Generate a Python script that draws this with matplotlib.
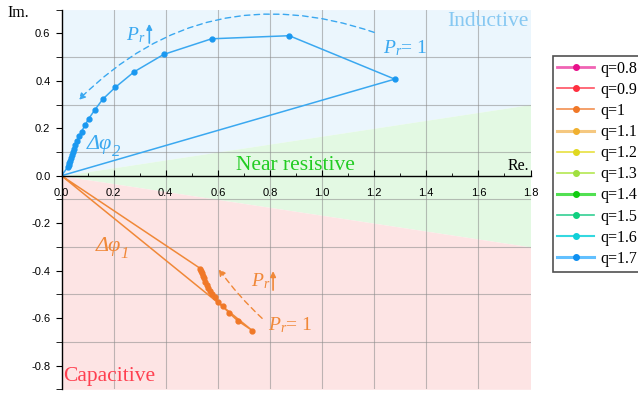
import matplotlib.pyplot as plt
import numpy as np
from matplotlib.lines import Line2D
from matplotlib.ticker import MultipleLocator, FormatStrFormatter

plt.rcParams['font.family'] = 'Liberation Serif'
plt.rcParams['mathtext.fontset'] = 'custom'
plt.rcParams['mathtext.rm'] = 'Liberation Serif'
plt.rcParams['mathtext.it'] = 'Liberation Serif:italic'
plt.rcParams['axes.unicode_minus'] = False

# legend entries
q_labels = ['q=0.8', 'q=0.9', 'q=1', 'q=1.1', 'q=1.2',
            'q=1.3', 'q=1.4', 'q=1.5', 'q=1.6', 'q=1.7']
q_lines = ['#f064b4', '#ff5262', '#f29050', '#f5c880', '#e8e040',
           '#b4e852', '#52e052', '#34d094', '#34d8e0', '#62c0ff']
q_marks = ['#e8108a', '#ff3040', '#f07828', '#f0b030', '#e0d820',
           '#a0e040', '#10cc10', '#10d080', '#10d0d8', '#1090f0']
q_widths = [2.0, 1.2, 1.2, 2.2, 1.2, 1.2, 2.2, 1.2, 1.5, 2.2]

# q = 1 locus, starting at P_r = 1
re_q1 = [0.733, 0.676, 0.642, 0.619, 0.602, 0.588, 0.578, 0.570, 0.563,
         0.557, 0.551, 0.546, 0.542, 0.538, 0.535, 0.533]
im_q1 = [-0.653, -0.611, -0.577, -0.550, -0.531, -0.512, -0.498, -0.485,
         -0.472, -0.459, -0.446, -0.433, -0.421, -0.410, -0.400, -0.391]

# q = 1.7 locus, starting at P_r = 1
re_q17 = [1.279, 0.874, 0.576, 0.392, 0.279, 0.206, 0.158, 0.127, 0.105,
          0.090, 0.077, 0.068, 0.060, 0.053, 0.047, 0.043, 0.039, 0.035,
          0.032, 0.029, 0.027, 0.025]
im_q17 = [0.407, 0.590, 0.577, 0.511, 0.438, 0.372, 0.322, 0.276, 0.241,
          0.213, 0.186, 0.166, 0.146, 0.128, 0.113, 0.099, 0.087, 0.075,
          0.064, 0.054, 0.046, 0.038]

fig = plt.figure(figsize=(6.38, 3.94), dpi=100)
ax = fig.add_axes([61.5/638, 4.7/394, 469/638, 379.7/394])
ax.set_xlim(0, 1.8)
ax.set_ylim(-0.9, 0.7)

# operating regions
xx = np.array([0, 1.8])
ax.fill_between(xx, xx/6, 0.7, color='#ebf6fd', lw=0, zorder=0)
ax.fill_between(xx, -xx/6, xx/6, color='#e3f9e3', lw=0, zorder=0)
ax.fill_between(xx, -0.9, -xx/6, color='#fde4e4', lw=0, zorder=0)

for gx in np.arange(0.2, 1.7, 0.2):
    ax.axvline(gx, color='#8a8a8a', lw=0.8, alpha=0.55, zorder=1)
for gy in [-0.7, -0.5, -0.3, -0.1, 0.1, 0.3, 0.5]:
    ax.axhline(gy, color='#8a8a8a', lw=0.8, alpha=0.55, zorder=1)

# loci, closed back to the origin
ax.plot([0] + re_q1 + [0], [0] + im_q1 + [0], '-o', color='#f08838',
        mfc='#f07828', mec='#f07828', ms=3.5, lw=1.1,
        markevery=slice(1, len(re_q1) + 1), zorder=3)
ax.plot([0] + re_q17 + [0], [0] + im_q17 + [0], '-o', color='#3aa8f0',
        mfc='#1a98f0', mec='#1a98f0', ms=3.5, lw=1.1,
        markevery=slice(1, len(re_q17) + 1), zorder=3)

# P_r direction arrows
ax.annotate('', xy=(0.065, 0.319), xytext=(1.2, 0.604),
            arrowprops=dict(arrowstyle='-|>', color='#3aa8f0', lw=1.0,
                            ls=(0, (4, 3)), connectionstyle='arc3,rad=0.31',
                            shrinkA=0, shrinkB=0, mutation_scale=10))
ax.annotate('', xy=(0.603, -0.393), xytext=(0.770, -0.601),
            arrowprops=dict(arrowstyle='-|>', color='#f08838', lw=1.0,
                            ls=(0, (4, 3)), connectionstyle='arc3,rad=-0.05',
                            shrinkA=0, shrinkB=0, mutation_scale=10))
ax.annotate('', xy=(0.337, 0.640), xytext=(0.337, 0.559),
            arrowprops=dict(arrowstyle='-|>', color='#3aa8f0', lw=1.2,
                            shrinkA=0, shrinkB=0, mutation_scale=8))
ax.annotate('', xy=(0.812, -0.402), xytext=(0.812, -0.482),
            arrowprops=dict(arrowstyle='-|>', color='#f08838', lw=1.2,
                            shrinkA=0, shrinkB=0, mutation_scale=8))

ax.text(0.283, 0.593, '$P_r$', color='#3aa8f0', fontsize=14,
        ha='center', va='center')
ax.text(0.763, -0.445, '$P_r$', color='#f08838', fontsize=14,
        ha='center', va='center')
ax.text(1.235, 0.538, '$P_r$= 1', color='#3aa8f0', fontsize=14, va='center')
ax.text(0.794, -0.629, '$P_r$= 1', color='#f08838', fontsize=14, va='center')


def phase_label(x, y, sub, color):
    t = ax.text(x, y, 'Δφ', color=color, fontsize=16, style='italic',
                va='center')
    ax.annotate(sub, xy=(1, 0.12), xycoords=t, color=color, fontsize=12,
                style='italic', va='center', ha='left')


phase_label(0.098, 0.13, '2', '#3aa8f0')
phase_label(0.131, -0.30, '1', '#f08838')

ax.text(1.794, 0.648, 'Inductive', color='#86c8f2', fontsize=15.5,
        ha='right', va='center')
ax.text(0.670, 0.041, 'Near resistive', color='#22cc22', fontsize=15.5,
        va='center')
ax.text(0.005, -0.848, 'Capacitive', color='#ff4050', fontsize=15.5,
        va='center')
ax.text(1.794, 0.041, 'Re.', color='black', fontsize=11.5,
        ha='right', va='center')
fig.text(7/638, 1 - 13/394, 'Im.', fontsize=11.5, va='center')

# axes through the origin
ax.spines['bottom'].set_position(('data', 0))
ax.spines['top'].set_visible(False)
ax.spines['right'].set_visible(False)
for s in ['left', 'bottom']:
    ax.spines[s].set_zorder(4)
    ax.spines[s].set_linewidth(1.0)

ax.xaxis.set_major_locator(MultipleLocator(0.2))
ax.xaxis.set_minor_locator(MultipleLocator(0.1))
ax.yaxis.set_major_locator(MultipleLocator(0.2))
ax.yaxis.set_minor_locator(MultipleLocator(0.1))
ax.xaxis.set_major_formatter(FormatStrFormatter('%.1f'))
ax.yaxis.set_major_formatter(FormatStrFormatter('%.1f'))
ax.tick_params(axis='x', which='major', direction='in', length=4, pad=9)
ax.tick_params(axis='x', which='minor', direction='in', length=2.5)
ax.tick_params(axis='y', which='both', direction='out', length=4, pad=4)
for lab in ax.get_xticklabels() + ax.get_yticklabels():
    lab.set_family('Liberation Sans')
    lab.set_fontsize(8)

handles = [Line2D([], [], color=c, lw=w, marker='o', ms=4, mfc=m, mec=m)
           for c, m, w in zip(q_lines, q_marks, q_widths)]
leg = fig.legend(handles, q_labels, loc='upper left',
                 bbox_to_anchor=(552.7/638, 1 - 56/394), borderaxespad=0,
                 fancybox=False, edgecolor='#505050', framealpha=1,
                 prop={'family': 'Liberation Serif', 'size': 11.5},
                 handlelength=2.3, handletextpad=0.4, borderpad=0.3,
                 labelspacing=0.32)
leg.get_frame().set_linewidth(1.2)

fig.savefig('out.png', dpi=100)
